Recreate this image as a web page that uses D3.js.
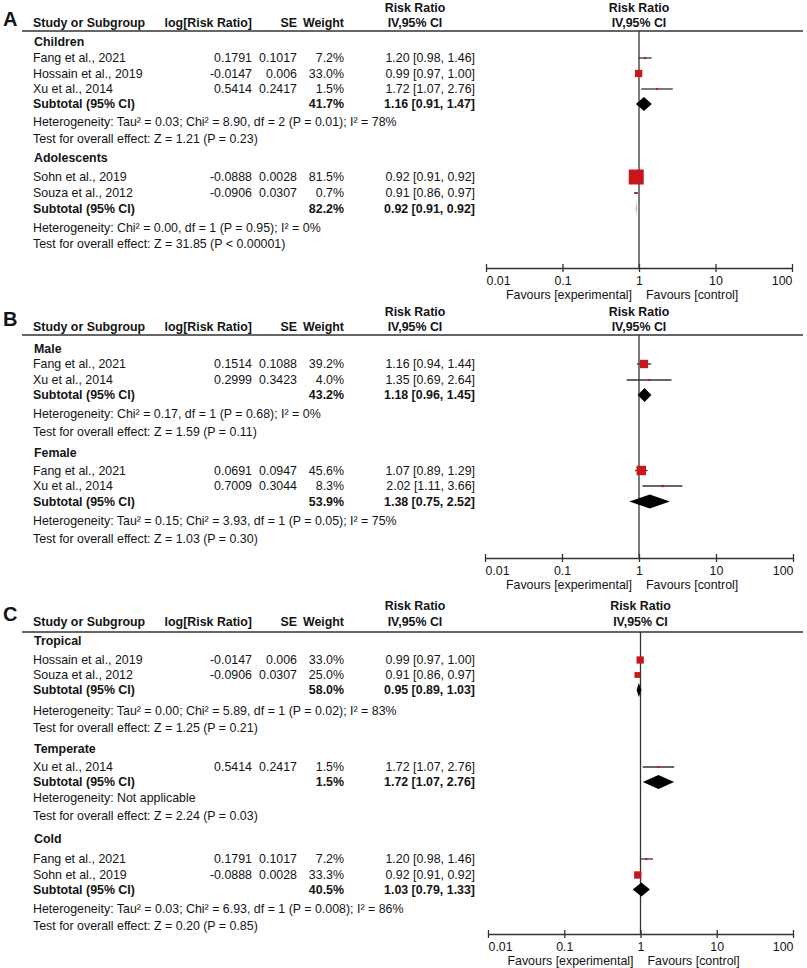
<!DOCTYPE html>
<html>
<head>
<meta charset="utf-8">
<script src="https://cdn.jsdelivr.net/npm/d3@7"></script>
<style>
  body { margin: 0; background: #fff; }
  svg { display: block; }
  text { font-family: "Liberation Sans", Arial, sans-serif; font-size: 12.4px; fill: #141414; }
</style>
</head>
<body>
<svg id="chart" width="807" height="968"></svg>
<script>
// ================= DATA =================
const tickValues = [0.01, 0.1, 1, 10, 100];
const tickLabels = ["0.01", "0.1", "1", "10", "100"];
const tableHeaders = ["Study or Subgroup", "log[Risk Ratio]", "SE", "Weight"];
const effectHeader = ["Risk Ratio", "IV,95% CI"];
const favourLabels = ["Favours [experimental]", "Favours [control]"];
const panelLetters = ["A", "B", "C"];

// row: [study, log RR, SE, weight %, RR, lower, upper]
// Panel A – age
const childrenRows = [
  ["Fang et al., 2021", 0.1791, 0.1017, 7.2, 1.20, 0.98, 1.46],
  ["Hossain et al., 2019", -0.0147, 0.006, 33.0, 0.99, 0.97, 1.00],
  ["Xu et al., 2014", 0.5414, 0.2417, 1.5, 1.72, 1.07, 2.76]
];
const childrenTotal = [41.7, 1.16, 0.91, 1.47];
const childrenNotes = ["Heterogeneity: Tau² = 0.03; Chi² = 8.90, df = 2 (P = 0.01); I² = 78%",
                       "Test for overall effect: Z = 1.21 (P = 0.23)"];

const adolescentRows = [
  ["Sohn et al., 2019", -0.0888, 0.0028, 81.5, 0.92, 0.91, 0.92],
  ["Souza et al., 2012", -0.0906, 0.0307, 0.7, 0.91, 0.86, 0.97]
];
const adolescentTotal = [82.2, 0.92, 0.91, 0.92];
const adolescentNotes = ["Heterogeneity: Chi² = 0.00, df = 1 (P = 0.95); I² = 0%",
                         "Test for overall effect: Z = 31.85 (P < 0.00001)"];

// Panel B – sex
const maleRows = [
  ["Fang et al., 2021", 0.1514, 0.1088, 39.2, 1.16, 0.94, 1.44],
  ["Xu et al., 2014", 0.2999, 0.3423, 4.0, 1.35, 0.69, 2.64]
];
const maleTotal = [43.2, 1.18, 0.96, 1.45];
const maleNotes = ["Heterogeneity: Chi² = 0.17, df = 1 (P = 0.68); I² = 0%",
                   "Test for overall effect: Z = 1.59 (P = 0.11)"];

const femaleRows = [
  ["Fang et al., 2021", 0.0691, 0.0947, 45.6, 1.07, 0.89, 1.29],
  ["Xu et al., 2014", 0.7009, 0.3044, 8.3, 2.02, 1.11, 3.66]
];
const femaleTotal = [53.9, 1.38, 0.75, 2.52];
const femaleNotes = ["Heterogeneity: Tau² = 0.15; Chi² = 3.93, df = 1 (P = 0.05); I² = 75%",
                     "Test for overall effect: Z = 1.03 (P = 0.30)"];

// Panel C – climate
const tropicalRows = [
  ["Hossain et al., 2019", -0.0147, 0.006, 33.0, 0.99, 0.97, 1.00],
  ["Souza et al., 2012", -0.0906, 0.0307, 25.0, 0.91, 0.86, 0.97]
];
const tropicalTotal = [58.0, 0.95, 0.89, 1.03];
const tropicalNotes = ["Heterogeneity: Tau² = 0.00; Chi² = 5.89, df = 1 (P = 0.02); I² = 83%",
                       "Test for overall effect: Z = 1.25 (P = 0.21)"];

const temperateRows = [
  ["Xu et al., 2014", 0.5414, 0.2417, 1.5, 1.72, 1.07, 2.76]
];
const temperateTotal = [1.5, 1.72, 1.07, 2.76];
const temperateNotes = ["Heterogeneity: Not applicable",
                        "Test for overall effect: Z = 2.24 (P = 0.03)"];

const coldRows = [
  ["Fang et al., 2021", 0.1791, 0.1017, 7.2, 1.20, 0.98, 1.46],
  ["Sohn et al., 2019", -0.0888, 0.0028, 33.3, 0.92, 0.91, 0.92]
];
const coldTotal = [40.5, 1.03, 0.79, 1.33];
const coldNotes = ["Heterogeneity: Tau² = 0.03; Chi² = 6.93, df = 1 (P = 0.008); I² = 86%",
                   "Test for overall effect: Z = 0.20 (P = 0.85)"];

const panelAGroups = [["Children", childrenRows, childrenTotal, childrenNotes],
                      ["Adolescents", adolescentRows, adolescentTotal, adolescentNotes]];
const panelBGroups = [["Male", maleRows, maleTotal, maleNotes],
                      ["Female", femaleRows, femaleTotal, femaleNotes]];
const panelCGroups = [["Tropical", tropicalRows, tropicalTotal, tropicalNotes],
                      ["Temperate", temperateRows, temperateTotal, temperateNotes],
                      ["Cold", coldRows, coldTotal, coldNotes]];

// ================= LAYOUT =================
const panelLayouts = [
  { groups: panelAGroups, h1: 8, h2: 23, line: 31, axis: 268, xr: [486, 792], letterDy: 3,
    rows: [42, 58, 73.5, 89, 104, 122, 139, 158, 177, 193, 208.5, 228, 243.5] },
  { groups: panelBGroups, h1: 312, h2: 327, line: 335, axis: 558, xr: [485, 793], letterDy: -1,
    rows: [349, 364, 380, 395, 414, 432, 453, 470.5, 486, 501.5, 521, 539] },
  { groups: panelCGroups, h1: 606, h2: 622, line: 632, axis: 934, xr: [488, 793], letterDy: -1,
    rows: [641, 660, 675, 690, 711, 728, 749, 767, 782, 798, 816, 839, 859, 875, 889.5, 909, 926] }
];
const col = { name: 33, logrr: 252, se: 297, weight: 344, ci: 475, ciHead: 415 };
const BL = 4.4; // baseline offset from row centre
const red = "#c8161d", ink = "#333";

const svg = d3.select("#chart");
const fmt2 = d3.format(".2f");
const fmtW = d => d3.format(".1f")(d) + "%";
const ciText = (rr, lo, hi) => `${fmt2(rr)} [${fmt2(lo)}, ${fmt2(hi)}]`;
const boxSize = d3.scalePow().exponent(0.8).domain([0, 81.5]).range([0, 15]);

panelLayouts.forEach((P, pi) => {
  const g = svg.append("g");
  const x = d3.scaleLog().domain([0.01, 100]).range(P.xr);
  const x1 = x(1);

  // Panel letter
  g.append("text").attr("x", 3).attr("y", P.h2 + P.letterDy)
    .style("font-size", "20px").style("font-weight", "bold").text(panelLetters[pi]);

  // headers
  const bold = sel => sel.style("font-weight", "bold");
  g.append("text").attr("x", col.ciHead).attr("y", P.h1 + BL).attr("text-anchor", "middle").call(bold).text(effectHeader[0]);
  g.append("text").attr("x", col.ciHead).attr("y", P.h2 + BL).attr("text-anchor", "middle").call(bold).text(effectHeader[1]);
  g.append("text").attr("x", x1).attr("y", P.h1 + BL).attr("text-anchor", "middle").call(bold).text(effectHeader[0]);
  g.append("text").attr("x", x1).attr("y", P.h2 + BL).attr("text-anchor", "middle").call(bold).text(effectHeader[1]);
  g.append("text").attr("x", col.name).attr("y", P.h2 + BL).call(bold).text(tableHeaders[0]);
  g.append("text").attr("x", col.logrr).attr("y", P.h2 + BL).attr("text-anchor", "end").call(bold).text(tableHeaders[1]);
  g.append("text").attr("x", col.se).attr("y", P.h2 + BL).attr("text-anchor", "end").call(bold).text(tableHeaders[2]);
  g.append("text").attr("x", col.weight).attr("y", P.h2 + BL).attr("text-anchor", "end").call(bold).text(tableHeaders[3]);

  g.append("line").attr("x1", 22).attr("x2", 803).attr("y1", P.line).attr("y2", P.line)
    .attr("stroke", ink).attr("stroke-width", 1.3);

  // line of no effect
  g.append("line").attr("x1", x1).attr("x2", x1).attr("y1", P.line).attr("y2", P.axis)
    .attr("stroke", ink).attr("stroke-width", 1.3);

  // rows
  let r = 0;
  P.groups.forEach(([label, rows, total, notes]) => {
    const yl = P.rows[r++];
    g.append("text").attr("x", col.name + 1).attr("y", yl + BL).call(bold).text(label);
    rows.forEach(([name, lrr, se, w, rr, lo, hi]) => {
      const y = P.rows[r++];
      g.append("text").attr("x", col.name).attr("y", y + BL).text(name);
      g.append("text").attr("x", col.logrr).attr("y", y + BL).attr("text-anchor", "end").text(String(lrr));
      g.append("text").attr("x", col.se).attr("y", y + BL).attr("text-anchor", "end").text(String(se));
      g.append("text").attr("x", col.weight).attr("y", y + BL).attr("text-anchor", "end").text(fmtW(w));
      g.append("text").attr("x", col.ci).attr("y", y + BL).attr("text-anchor", "end").text(ciText(rr, lo, hi));
      g.append("line").attr("x1", x(lo)).attr("x2", x(hi)).attr("y1", y).attr("y2", y)
        .attr("stroke", ink).attr("stroke-width", 1.3);
      const s = Math.max(2, boxSize(w));
      g.append("rect").attr("x", x(rr) - s / 2).attr("y", y - s / 2).attr("width", s).attr("height", s)
        .attr("fill", red);
    });
    const ys = P.rows[r++];
    const [tw, trr, tlo, thi] = total;
    g.append("text").attr("x", col.name).attr("y", ys + BL).call(bold).text("Subtotal (95% CI)");
    g.append("text").attr("x", col.weight).attr("y", ys + BL).attr("text-anchor", "end").call(bold).text(fmtW(tw));
    g.append("text").attr("x", col.ci).attr("y", ys + BL).attr("text-anchor", "end").call(bold).text(ciText(trr, tlo, thi));
    const hh = 7;
    g.append("path")
      .attr("d", `M${x(tlo)},${ys}L${x(trr)},${ys - hh}L${x(thi)},${ys}L${x(trr)},${ys + hh}Z`)
      .attr("fill", "#000");
    notes.forEach(t => {
      const yn = P.rows[r++];
      g.append("text").attr("x", col.name).attr("y", yn + BL).text(t);
    });
  });

  // axis
  const axis = d3.axisBottom(x).tickValues(tickValues).tickFormat((d, i) => tickLabels[i])
    .tickSizeOuter(0).tickSizeInner(4).tickPadding(0);
  const ag = g.append("g").attr("transform", `translate(0,${P.axis})`).call(axis);
  ag.select(".domain").attr("stroke", ink).attr("stroke-width", 1.3);
  ag.selectAll(".tick line").attr("y1", -4).attr("y2", 4).attr("stroke", ink).attr("stroke-width", 1.3);
  ag.selectAll(".tick text").attr("y", 17.4).attr("dy", null)
    .style("font-size", "12.4px").style("font-family", '"Liberation Sans", Arial, sans-serif').attr("fill", "#141414")
    .attr("text-anchor", (d, i) => i === 0 ? "start" : i === tickValues.length - 1 ? "end" : "middle");

  g.append("text").attr("x", x1 - 7).attr("y", P.axis + 27 + BL).attr("text-anchor", "end").text(favourLabels[0]);
  g.append("text").attr("x", x1 + 7).attr("y", P.axis + 27 + BL).text(favourLabels[1]);
});
</script>
</body>
</html>
